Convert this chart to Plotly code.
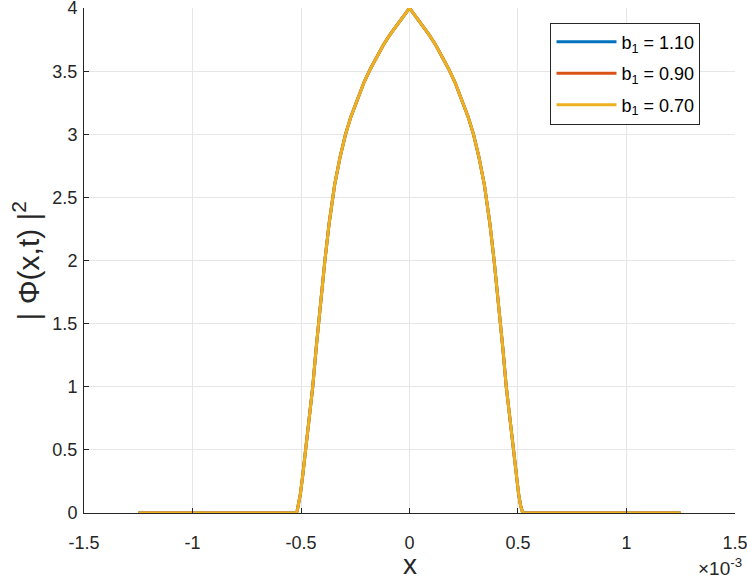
import plotly.graph_objects as go

# x in units of 1e-3 (right half; the profile is symmetric)
x_half = [0.0, 0.03, 0.06, 0.09, 0.12, 0.15, 0.18, 0.21, 0.24, 0.27, 0.295, 0.32,
          0.345, 0.37, 0.39, 0.41, 0.43, 0.446, 0.462, 0.478, 0.492, 0.503, 0.512,
          0.518, 0.522, 0.6, 0.9, 1.25]
y_half = [4.0, 3.93, 3.86, 3.79, 3.71, 3.62, 3.52, 3.41, 3.28, 3.14, 3.0, 2.82,
          2.6, 2.3, 2.0, 1.67, 1.31, 1.0, 0.75, 0.5, 0.3, 0.15, 0.06,
          0.015, 0.0, 0.0, 0.0, 0.0]

x_vals = [-v for v in x_half[::-1]] + x_half[1:]
y_vals = y_half[::-1] + y_half[1:]

series_names = ["b<sub>1</sub> = 1.10", "b<sub>1</sub> = 0.90", "b<sub>1</sub> = 0.70"]
series_y = [y_vals, y_vals, y_vals]
colors = ["#0072BD", "#D95319", "#EDB120"]

x_ticks = [-1.5, -1, -0.5, 0, 0.5, 1, 1.5]
x_ticktext = ["-1.5", "-1", "-0.5", "0", "0.5", "1", "1.5"]
y_ticks = [0, 0.5, 1, 1.5, 2, 2.5, 3, 3.5, 4]
y_ticktext = ["0", "0.5", "1", "1.5", "2", "2.5", "3", "3.5", "4"]

FONT = "Liberation Sans, Arial, sans-serif"
AX = "#262626"

fig = go.Figure()
for i, (name, ys, c) in enumerate(zip(series_names, series_y, colors)):
    fig.add_trace(go.Scatter(x=x_vals, y=ys, mode="lines", name=name,
                             legendgroup=f"g{i}",
                             line=dict(color=c, width=3)))

fig.update_layout(
    width=747, height=581,
    margin=dict(l=84, r=12, t=8, b=68, autoexpand=False),
    paper_bgcolor="white", plot_bgcolor="white",
    font=dict(family=FONT, color=AX, size=18),
    showlegend=True,
    legend=dict(x=0.947, y=0.971, xanchor="right", yanchor="top",
                bgcolor="white", bordercolor=AX, borderwidth=1,
                font=dict(size=18, family=FONT, color="black"),
                itemwidth=60, tracegroupgap=5),
)
fig.update_xaxes(range=[-1.5004, 1.5004], tickvals=x_ticks, ticktext=x_ticktext,
                 showgrid=True, gridcolor="#e6e6e6", gridwidth=1,
                 showline=True, linecolor=AX, linewidth=1,
                 ticks="inside", ticklen=5, tickcolor=AX, ticklabelstandoff=13,
                 ticklabeloverflow="allow", automargin=False,
                 zeroline=False, tickfont=dict(size=18, family=FONT, color=AX))
fig.update_yaxes(range=[0, 4.0008], tickvals=y_ticks, ticktext=y_ticktext,
                 showgrid=True, gridcolor="#e6e6e6", gridwidth=1,
                 showline=True, linecolor=AX, linewidth=1,
                 ticks="inside", ticklen=5, tickcolor=AX, ticklabelstandoff=2,
                 ticklabeloverflow="allow", automargin=False,
                 zeroline=False, tickfont=dict(size=18, family=FONT, color=AX))

fig.add_annotation(text="| Φ(x,t) |<sup>2</sup>", xref="paper", yref="paper",
                   x=0, y=0.5, xanchor="center", yanchor="middle", xshift=-58,
                   textangle=-90, showarrow=False,
                   font=dict(size=30, family=FONT, color=AX))
fig.add_annotation(text="x", xref="paper", yref="paper",
                   x=0.5, y=0, xanchor="center", yanchor="middle", yshift=-51,
                   showarrow=False, font=dict(size=28, family=FONT, color=AX))
fig.add_annotation(text="×10<sup>-3</sup>", xref="paper", yref="paper",
                   x=1, y=0, xanchor="right", yanchor="middle", yshift=-54, xshift=9,
                   showarrow=False, font=dict(size=19, family=FONT, color=AX))

fig.write_html("out.html")
